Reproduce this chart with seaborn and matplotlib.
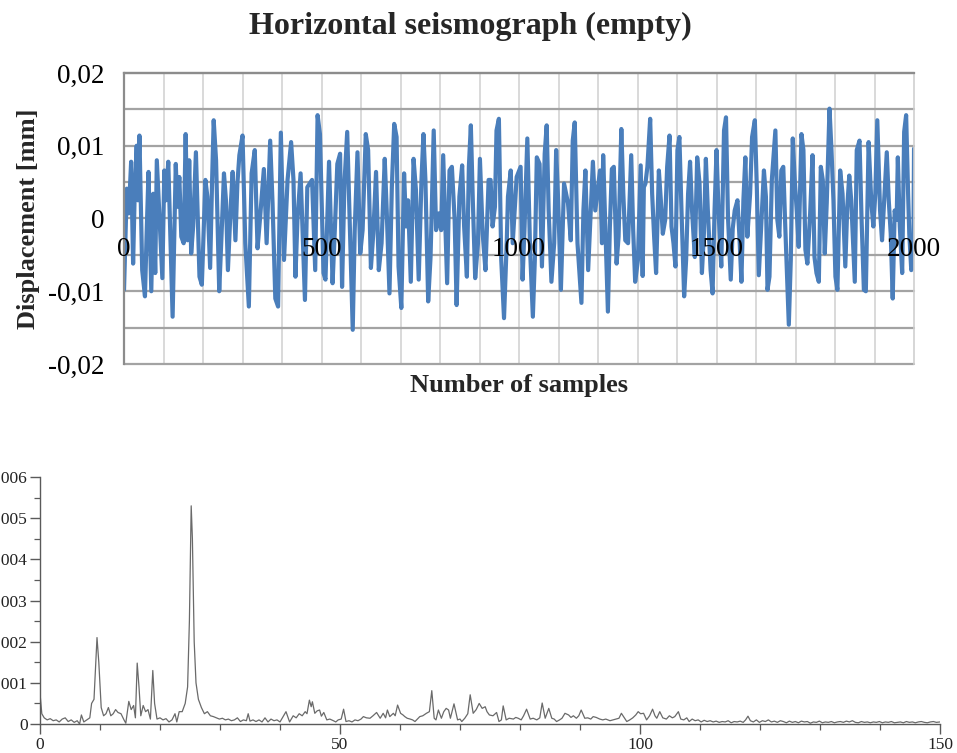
import numpy as np
import pandas as pd
import matplotlib
matplotlib.use("Agg")
import matplotlib.pyplot as plt
import seaborn as sns
from matplotlib.ticker import MultipleLocator, FuncFormatter

# ---------------- Seismograph (turning points) ----------------
samples_a = [0, 7, 12, 18, 23, 27, 32, 35, 39, 46, 53, 57, 62, 69, 74, 79, 83, 89, 97, 102,
             106, 112, 123, 131, 135, 140, 145, 151, 156, 161, 165, 170, 175, 182, 191, 197, 206, 211, 218, 223,
             227, 233, 241, 247, 253, 258, 263, 270, 275, 282, 287, 292, 300, 307, 316, 323, 331, 338, 344, 354,
             361, 370, 376, 383, 390, 397]
disp_a = [-0.0098, 0.0041, 0.0007, 0.0078, -0.0062, 0.0034, 0.0100, 0.0025, 0.0114, -0.0071,
          -0.0107, -0.0025, 0.0064, -0.0100, 0.0034, -0.0075, 0.0080, 0.0011, -0.0082, 0.0066,
          0.0025, 0.0078, -0.0135, 0.0075, 0.0016, 0.0057, -0.0025, -0.0034, 0.0116, -0.0030,
          0.0080, -0.0048, -0.0011, 0.0091, -0.0080, -0.0091, 0.0053, 0.0030, -0.0068, 0.0053,
          0.0135, 0.0080, -0.0100, -0.0021, 0.0062, 0.0025, -0.0071, 0.0016, 0.0064, -0.0030,
          0.0048, 0.0087, 0.0114, -0.0034, -0.0121, 0.0062, 0.0094, -0.0041, -0.0002, 0.0068,
          -0.0034, 0.0107, 0.0021, -0.0110, -0.0121, 0.0118]

samples_b = [405, 414, 423, 429, 434, 439, 447, 458, 464, 476, 484, 490, 496, 505, 510, 519, 528, 534, 540, 547,
             552, 558, 565, 572, 579, 584, 591, 598, 604, 612, 618, 625, 631, 638, 645, 652, 660, 665, 672, 678,
             684, 690, 695, 702, 709, 714, 719, 726, 733, 739, 746, 753, 758, 763, 770, 776, 784, 790, 797]
disp_b = [-0.0057, 0.0053, 0.0105, 0.0053, -0.0080, -0.0002, 0.0062, -0.0112, 0.0043, 0.0053,
          -0.0071, 0.0142, 0.0116, -0.0075, -0.0084, 0.0078, -0.0089, -0.0011, 0.0075, 0.0089,
          -0.0094, 0.0048, 0.0119, -0.0016, -0.0153, -0.0016, 0.0091, -0.0048, -0.0016, 0.0116,
          0.0094, -0.0068, -0.0021, 0.0064, -0.0071, -0.0034, 0.0082, 0.0011, -0.0103, 0.0043,
          0.0130, 0.0112, -0.0066, -0.0123, 0.0062, -0.0011, 0.0025, -0.0087, 0.0082, 0.0039,
          -0.0084, 0.0053, 0.0116, 0.0053, -0.0114, -0.0053, 0.0121, -0.0016, 0.0007]

samples_c = [803, 808, 818, 824, 830, 837, 842, 849, 856, 861, 868, 873, 878, 883, 889, 896, 901, 908, 915, 923,
             928, 933, 939, 943, 949, 955, 962, 969, 972, 979, 984, 989, 994, 1004, 1009, 1014, 1021, 1028, 1035, 1040,
             1045, 1052, 1058, 1065, 1070, 1075, 1082, 1089, 1094, 1099, 1106, 1114, 1124, 1131, 1136, 1141, 1148, 1158,
             1163, 1168, 1175, 1187, 1193]
disp_c = [-0.0016, 0.0087, -0.0089, 0.0066, 0.0071, -0.0002, -0.0119, 0.0030, 0.0073, -0.0011,
          -0.0080, 0.0071, 0.0128, 0.0025, -0.0082, -0.0034, 0.0082, -0.0021, -0.0071, 0.0053,
          0.0053, -0.0011, 0.0016, 0.0121, 0.0137, -0.0057, -0.0137, -0.0030, 0.0030, 0.0066,
          -0.0034, 0.0011, 0.0057, 0.0071, -0.0084, -0.0011, 0.0110, -0.0043, -0.0135, -0.0057,
          0.0084, 0.0075, -0.0066, 0.0089, 0.0128, 0.0011, -0.0087, -0.0034, 0.0094, 0.0025,
          -0.0098, 0.0048, 0.0021, -0.0030, 0.0107, 0.0132, -0.0034, -0.0116, 0.0011, 0.0066,
          -0.0071, 0.0078, 0.0011]

samples_d = [1205, 1210, 1213, 1219, 1225, 1230, 1235, 1240, 1247, 1252, 1259, 1264, 1269, 1276, 1284, 1289, 1294,
             1301, 1308, 1313, 1316, 1320, 1325, 1332, 1337, 1342, 1347, 1354, 1359, 1364, 1370, 1375, 1381, 1386,
             1391, 1396, 1401, 1406, 1411, 1418, 1423, 1428, 1433, 1438, 1445, 1451, 1457, 1463, 1468, 1473, 1478,
             1485, 1490, 1495, 1500, 1505, 1512, 1519, 1524, 1529, 1536, 1541, 1546, 1553, 1558, 1563, 1568, 1573,
             1578, 1585, 1590, 1597, 1602, 1607]
disp_d = [0.0066, -0.0034, 0.0087, -0.0021, -0.0128, -0.0011, 0.0068, 0.0071, -0.0062, -0.0025,
          0.0123, 0.0034, -0.0030, -0.0034, 0.0087, -0.0016, -0.0087, -0.0057, 0.0073, -0.0079,
          0.0043, 0.0048, 0.0071, 0.0137, 0.0034, -0.0025, -0.0075, 0.0066, 0.0025, -0.0021,
          -0.0002, 0.0071, 0.0114, -0.0011, -0.0034, -0.0066, 0.0094, 0.0112, 0.0016, -0.0107,
          -0.0057, 0.0034, 0.0078, 0.0011, -0.0053, 0.0084, 0.0048, -0.0075, -0.0021, 0.0082,
          0.0011, -0.0071, -0.0103, 0.0011, 0.0094, 0.0011, -0.0066, 0.0121, 0.0139, 0.0002,
          -0.0084, -0.0014, 0.0011, 0.0025, -0.0025, -0.0087, 0.0025, 0.0084, -0.0025, 0.0034,
          0.0112, 0.0135, 0.0043, -0.0078]

samples_e = [1620, 1625, 1629, 1634, 1640, 1649, 1654, 1659, 1664, 1669, 1674, 1683, 1688, 1693, 1698, 1703, 1708,
             1715, 1720, 1725, 1730, 1737, 1743, 1748, 1753, 1759, 1764, 1769, 1774, 1779, 1786, 1791, 1796, 1801,
             1806, 1813, 1819, 1826, 1831, 1836, 1841, 1850, 1855, 1862, 1867, 1873, 1878, 1885, 1892, 1897, 1902,
             1907, 1914, 1919, 1924, 1931, 1936, 1941, 1946, 1951, 1956, 1959, 1964, 1970, 1975, 1980, 1985, 1988,
             1993, 1998, 2000]
disp_e = [0.0066, 0.0030, -0.0098, -0.0080, 0.0053, 0.0121, -0.0002, -0.0025, 0.0066, 0.0071,
          -0.0011, -0.0146, -0.0057, 0.0110, 0.0053, 0.0011, -0.0039, 0.0116, 0.0094, -0.0043,
          -0.0062, 0.0007, 0.0087, -0.0053, -0.0075, -0.0087, 0.0071, 0.0053, -0.0048, 0.0021,
          0.0151, 0.0094, 0.0025, -0.0080, -0.0098, 0.0066, 0.0034, -0.0066, 0.0016, 0.0059,
          0.0025, -0.0087, 0.0094, 0.0107, 0.0002, -0.0098, -0.0100, 0.0105, 0.0021, -0.0011,
          0.0034, 0.0135, 0.0011, -0.0030, 0.0021, 0.0091, 0.0025, -0.0021, -0.0110, 0.0011,
          -0.0002, 0.0084, -0.0011, -0.0075, 0.0119, 0.0142, 0.0034, -0.0021, -0.0071, -0.0066,
          0.0096]

top_xticks = [0, 500, 1000, 1500, 2000]
top_xticklabels = ["0", "500", "1000", "1500", "2000"]
top_yticks = [-0.02, -0.01, 0.0, 0.01, 0.02]
top_yticklabels = ["-0,02", "-0,01", "0", "0,01", "0,02"]

# ---------------- Spectrum (amplitudes in units of 1e-3) ----------------
freq_1 = [0, 0.3, 0.7, 1.2, 1.7, 2.2, 2.7, 3.2, 3.7, 4.2, 4.7, 5.2, 5.7, 6.2, 6.6, 6.9, 7.3, 7.8, 8.3, 8.6,
          9.0, 9.5, 9.8, 10.2, 10.6, 11.0, 11.4, 11.8, 12.2, 12.6, 13.0, 13.5, 14.0, 14.3, 14.8, 15.2, 15.6, 15.9,
          16.2, 16.5, 16.8, 17.2, 17.6, 18.0, 18.4, 18.8, 19.1, 19.5, 20.0, 20.5, 21.0, 21.5, 22.0, 22.5, 22.8,
          23.2, 23.7, 24.2]
amp_1 = [0.75, 0.25, 0.15, 0.10, 0.13, 0.08, 0.10, 0.05, 0.12, 0.15, 0.06, 0.10, 0.04, 0.08, 0.00, 0.22, 0.05,
         0.10, 0.15, 0.50, 0.60, 2.10, 1.50, 0.40, 0.20, 0.25, 0.40, 0.20, 0.25, 0.35, 0.28, 0.25, 0.10, 0.02,
         0.55, 0.35, 0.45, 0.15, 1.48, 0.90, 0.20, 0.45, 0.30, 0.35, 0.12, 1.30, 0.50, 0.12, 0.15, 0.10, 0.13,
         0.05, 0.10, 0.25, 0.05, 0.30, 0.30, 0.50]

freq_2 = [24.6, 24.9, 25.2, 25.4, 25.7, 26.0, 26.4, 26.9, 27.4, 27.9, 28.4, 28.9, 29.4, 29.9, 30.4, 30.9, 31.4,
          31.9, 32.4, 32.9, 33.4, 33.9, 34.4, 34.7, 35.0, 35.5, 36.0, 36.5, 37.0, 37.5, 38.0, 38.5, 39.0, 39.5,
          40.0, 41.0, 41.6, 42.2, 42.7, 43.2, 43.7, 44.2, 44.5, 44.9, 45.2, 45.4, 45.8, 46.2, 46.6, 46.9, 47.3,
          47.8, 48.3, 48.9, 49.3, 49.7]
amp_2 = [0.90, 2.50, 5.30, 4.50, 2.00, 1.00, 0.60, 0.40, 0.25, 0.30, 0.20, 0.18, 0.15, 0.12, 0.14, 0.10, 0.12,
         0.08, 0.10, 0.15, 0.06, 0.10, 0.08, 0.25, 0.07, 0.10, 0.06, 0.10, 0.05, 0.15, 0.05, 0.12, 0.08, 0.10,
         0.05, 0.30, 0.05, 0.20, 0.15, 0.25, 0.20, 0.30, 0.25, 0.58, 0.42, 0.54, 0.26, 0.32, 0.34, 0.19, 0.28,
         0.10, 0.12, 0.08, 0.05, 0.10]

freq_3 = [50.2, 50.6, 51.0, 51.5, 52.0, 52.5, 53.0, 53.5, 53.9, 54.4, 55.0, 55.5, 56.1, 56.7, 57.2, 57.6, 57.9,
          58.3, 58.9, 59.2, 59.6, 60.1, 60.5, 60.8, 61.2, 61.7, 62.1, 62.5, 62.9, 63.3, 63.8, 64.4, 64.9, 65.3,
          65.7, 66.0, 66.4, 66.9, 67.3, 67.7, 68.1, 68.4, 69.0, 69.6, 70.0, 70.3, 70.8, 71.3, 71.7, 72.2, 72.7,
          73.2, 73.7, 74.2, 74.5, 74.9, 75.5, 76.1, 76.5, 76.9, 77.2, 77.7, 78.2, 78.9, 79.3, 79.7]
amp_3 = [0.12, 0.36, 0.06, 0.08, 0.05, 0.10, 0.08, 0.12, 0.18, 0.15, 0.14, 0.20, 0.28, 0.14, 0.26, 0.15, 0.34,
         0.18, 0.26, 0.20, 0.46, 0.26, 0.22, 0.18, 0.14, 0.12, 0.10, 0.06, 0.12, 0.18, 0.20, 0.26, 0.30, 0.81,
         0.14, 0.10, 0.34, 0.14, 0.30, 0.38, 0.34, 0.14, 0.49, 0.10, 0.12, 0.06, 0.14, 0.25, 0.71, 0.26, 0.35,
         0.50, 0.38, 0.42, 0.30, 0.22, 0.20, 0.28, 0.06, 0.10, 0.44, 0.10, 0.14, 0.12, 0.16, 0.14]

freq_4 = [80.2, 80.6, 81.1, 81.7, 82.2, 82.8, 83.3, 83.7, 84.2, 84.8, 85.3, 85.7, 86.1, 86.6, 87.0, 87.5, 88.1,
          88.5, 88.9, 89.4, 89.8, 90.2, 90.8, 91.3, 91.8, 92.2, 92.7, 93.3, 93.8, 94.3, 95.0, 95.5, 96.0, 96.5,
          96.9, 97.4, 97.8, 98.3, 98.8, 99.3, 99.7, 100.1, 100.6, 101.1, 101.6, 102.1, 102.5, 102.8, 103.3, 103.8,
          104.4, 104.9, 105.4, 105.8, 106.4, 106.8, 107.3, 107.8, 108.2, 108.7, 109.2, 109.7, 110.2]
amp_4 = [0.10, 0.20, 0.36, 0.12, 0.14, 0.10, 0.15, 0.51, 0.14, 0.38, 0.14, 0.12, 0.06, 0.10, 0.14, 0.26, 0.22,
         0.16, 0.20, 0.14, 0.20, 0.34, 0.14, 0.15, 0.12, 0.18, 0.16, 0.12, 0.10, 0.12, 0.08, 0.10, 0.12, 0.14,
         0.26, 0.15, 0.06, 0.10, 0.15, 0.22, 0.30, 0.25, 0.26, 0.10, 0.20, 0.36, 0.20, 0.14, 0.30, 0.15, 0.12,
         0.20, 0.15, 0.18, 0.30, 0.12, 0.10, 0.15, 0.06, 0.12, 0.08, 0.10, 0.05]

freq_5 = [110.7, 111.2, 111.7, 112.2, 112.7, 113.2, 113.7, 114.2, 114.7, 115.2, 115.7, 116.2, 116.7, 117.2, 117.6,
          118.0, 118.4, 118.9, 119.4, 119.9, 120.4, 120.9, 121.4, 121.9, 122.4, 122.9, 123.4, 123.9, 124.4, 124.9,
          125.4, 125.9, 126.4, 126.9, 127.4, 127.9, 128.4, 128.9, 129.4, 129.9, 130.4, 130.9, 131.4, 131.9, 132.4,
          132.9, 133.4, 133.9, 134.4, 134.9, 135.4, 135.9, 136.4, 136.9, 137.4, 137.9, 138.4, 138.9, 139.4, 139.9,
          140.4, 140.9, 141.4, 141.9, 142.4, 142.9, 143.4, 143.9, 144.4, 144.9, 145.4, 145.9, 146.4, 146.9, 147.4,
          147.9, 148.4, 148.9, 149.4, 150.0]
amp_5 = [0.09, 0.06, 0.08, 0.05, 0.07, 0.04, 0.06, 0.05, 0.08, 0.03, 0.06, 0.05, 0.07, 0.04, 0.10, 0.19, 0.08,
         0.05, 0.10, 0.04, 0.08, 0.06, 0.10, 0.05, 0.07, 0.04, 0.08, 0.06, 0.03, 0.07, 0.04, 0.06, 0.03, 0.07,
         0.05, 0.06, 0.02, 0.05, 0.04, 0.07, 0.03, 0.05, 0.04, 0.06, 0.03, 0.05, 0.06, 0.04, 0.07, 0.05, 0.08,
         0.04, 0.03, 0.06, 0.04, 0.05, 0.03, 0.05, 0.04, 0.06, 0.03, 0.05, 0.04, 0.06, 0.03, 0.04, 0.05, 0.03,
         0.06, 0.04, 0.05, 0.03, 0.05, 0.06, 0.04, 0.03, 0.05, 0.06, 0.04, 0.05]

bottom_xticks = [0, 50, 100, 150]
bottom_yticks = [0, 0.001, 0.002, 0.003, 0.004, 0.005, 0.006]

# ---------------- assemble ----------------
samples = samples_a + samples_b + samples_c + samples_d + samples_e
disp = disp_a + disp_b + disp_c + disp_d + disp_e
assert len(samples) == len(disp)
seis = pd.DataFrame({"sample": samples, "disp": disp})

freqs = freq_1 + freq_2 + freq_3 + freq_4 + freq_5
amps_e3 = amp_1 + amp_2 + amp_3 + amp_4 + amp_5
assert len(freqs) == len(amps_e3)
spec = pd.DataFrame({"freq": freqs, "amp": np.array(amps_e3) * 1e-3})

sns.set_style("ticks")
plt.rcParams["font.family"] = ["Liberation Serif", "DejaVu Serif"]

fig = plt.figure(figsize=(9.57, 7.53), dpi=100)

# ---------------- top chart ----------------
ax1 = fig.add_axes([0.1296, 0.5166, 0.8255, 0.3865])
sns.lineplot(data=seis, x="sample", y="disp", ax=ax1, color="#4A7EBB", linewidth=3.0,
             estimator=None, errorbar=None, zorder=2)
ax1.set_xlim(0, 2000)
ax1.set_ylim(-0.02, 0.02)
ax1.set_axisbelow(False)
for yv in np.arange(-0.02, 0.0201, 0.005):
    ax1.axhline(yv, color="#a3a3a3", lw=1.6, zorder=0.8, clip_on=False)
for xv in np.arange(100, 2000, 100):
    ax1.axvline(xv, color="#d3d3d3", lw=1.2, zorder=0.6)
ax1.spines["bottom"].set_position(("data", 0))
ax1.spines["bottom"].set_visible(False)
for s in ["left", "top"]:
    ax1.spines[s].set_color("#8c8c8c")
    ax1.spines[s].set_linewidth(1.6)
ax1.spines["right"].set_color("#cfcfcf")
ax1.spines["right"].set_linewidth(1.2)
ax1.set_xticks(top_xticks)
ax1.set_xticklabels(top_xticklabels)
ax1.set_yticks(top_yticks)
ax1.set_yticklabels(top_yticklabels)
ax1.tick_params(axis="both", length=0, labelsize=19.5, colors="black")
ax1.tick_params(axis="x", pad=13)
ax1.tick_params(axis="y", pad=14)
ax1.set_xlabel("Number of samples", fontsize=19, fontweight="bold")
ax1.xaxis.set_label_coords(0.5, -0.035)
ax1.set_ylabel("Displacement [mm]", fontsize=19, fontweight="bold")
ax1.yaxis.set_label_coords(-0.106, 0.5)
fig.text(0.492, 1 - 26 / 753, "Horizontal seismograph (empty)", ha="center", va="center",
         fontsize=23, fontweight="bold")

# ---------------- bottom chart ----------------
ax2 = fig.add_axes([0.0418, 0.0385, 0.9404, 0.328])
sns.lineplot(data=spec, x="freq", y="amp", ax=ax2, color="#6a6a6a", linewidth=0.9,
             estimator=None, errorbar=None)
ax2.set_xlim(0, 150)
ax2.set_ylim(0, 0.006)
ax2.spines["top"].set_visible(False)
ax2.spines["right"].set_visible(False)
for s in ["left", "bottom"]:
    ax2.spines[s].set_color("#5a5a5a")
    ax2.spines[s].set_linewidth(1.0)
ax2.set_xticks(bottom_xticks)
ax2.set_yticks(bottom_yticks)
ax2.xaxis.set_minor_locator(MultipleLocator(10))
ax2.yaxis.set_minor_locator(MultipleLocator(0.0005))
ax2.yaxis.set_major_formatter(FuncFormatter(lambda v, p: "0" if abs(v) < 1e-12 else f"{v:.3f}"))
ax2.tick_params(which="major", length=7, width=1, color="#5a5a5a", labelsize=12.5, pad=2,
                labelcolor="#222222", direction="out", bottom=True, left=True)
ax2.tick_params(which="minor", length=4, width=0.9, color="#5a5a5a", direction="out",
                bottom=True, left=True)
ax2.set_xlabel("")
ax2.set_ylabel("")

fig.savefig("out.png", dpi=100)
